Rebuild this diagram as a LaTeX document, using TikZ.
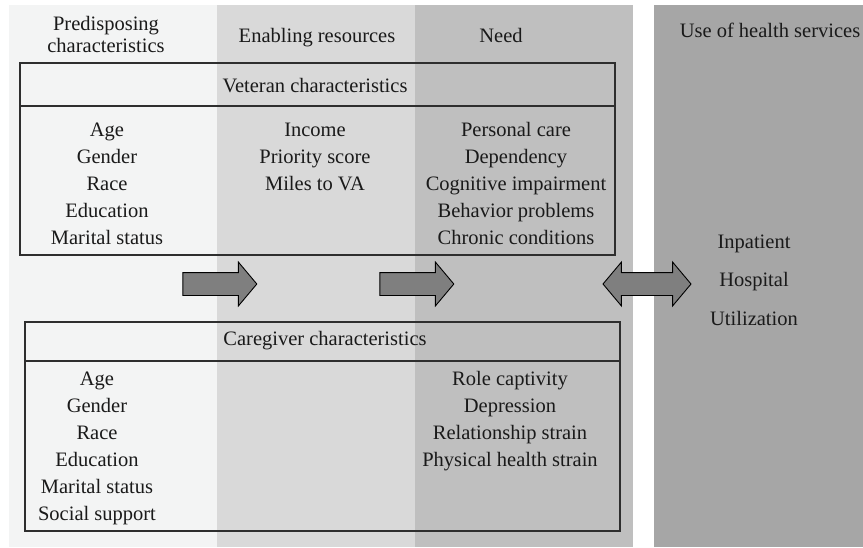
\documentclass[tikz,border=0pt]{standalone}
\usepackage{fontspec}
\setmainfont{Liberation Serif}
\usetikzlibrary{shapes.arrows}

\definecolor{colpre}{HTML}{F3F4F4}
\definecolor{colena}{HTML}{D9D9D9}
\definecolor{colneed}{HTML}{BFBFBF}
\definecolor{coluse}{HTML}{A6A6A6}
\definecolor{boxline}{HTML}{2E2E2E}
\definecolor{arrowgrey}{HTML}{7F7F7F}
\definecolor{inktext}{HTML}{1A1A1A}

\begin{document}
\begin{tikzpicture}[x=1pt,y=-1pt,
    every node/.style={font=\fontsize{20.5}{24}\selectfont,text=inktext,inner sep=0pt},
    item/.style={anchor=base},
    panel/.style={draw=boxline,line width=1.5pt},
    fatarrow/.style={single arrow,draw=black,fill=arrowgrey,line width=0.9pt,
        inner xsep=0pt,inner ysep=11pt,
        minimum height=74pt,minimum width=43pt,single arrow head extend=10.5pt,
        single arrow tip angle=100},
    twoarrow/.style={double arrow,draw=black,fill=arrowgrey,line width=0.9pt,
        inner xsep=0pt,inner ysep=11pt,
        minimum height=88pt,minimum width=43pt,double arrow head extend=10.5pt,
        double arrow tip angle=100}]
    \useasboundingbox (0,0) rectangle (863,547);

    % background columns
    \fill[colpre] (9,5) rectangle (217,547);
    \fill[colena] (217,5) rectangle (415,547);
    \fill[colneed] (415,5) rectangle (633,547);
    \fill[coluse] (654,5) rectangle (863,547);

    % column headings
    \node[item] (hpre1) at (106,30) {Predisposing};
    \node[item] (hpre2) at (106,52) {characteristics};
    \node[item] (hena) at (317,42) {Enabling resources};
    \node[item] (hneed) at (501,42) {Need};
    \node[item] (huse) at (770,37) {Use of health services};

    % veteran box
    \draw[panel] (20,63) rectangle (615,255);
    \draw[panel] (20,106) -- (615,106);
    \node[item] (vhead) at (315,92) {Veteran characteristics};
    \foreach \txt [count=\i] in {Age,Gender,Race,Education,Marital status}
        \node[item] (vpre\i) at (107,109+27*\i) {\txt};
    \foreach \txt [count=\i] in {Income,Priority score,Miles to VA}
        \node[item] (vena\i) at (315,109+27*\i) {\txt};
    \foreach \txt [count=\i] in {Personal care,Dependency,Cognitive impairment,
            Behavior problems,Chronic conditions}
        \node[item] (vneed\i) at (516,109+27*\i) {\txt};

    % caregiver box
    \draw[panel] (25,322) rectangle (620,531);
    \draw[panel] (25,361) -- (620,361);
    \node[item] (chead) at (325,345) {Caregiver characteristics};
    \foreach \txt [count=\i] in {Age,Gender,Race,Education,Marital status,Social support}
        \node[item] (cpre\i) at (97,358+27*\i) {\txt};
    \foreach \txt [count=\i] in {Role captivity,Depression,Relationship strain,
            Physical health strain}
        \node[item] (cneed\i) at (510,358+27*\i) {\txt};

    % arrows
    \node[fatarrow] (arrpre) at (215,284) {};
    \node[fatarrow] (arrena) at (412,284) {};
    \node[twoarrow] (arruse) at (647,284) {};

    % outcome
    \node[item] (out1) at (754,248) {Inpatient};
    \node[item] (out2) at (754,286) {Hospital};
    \node[item] (out3) at (754,325) {Utilization};
\end{tikzpicture}
\end{document}
